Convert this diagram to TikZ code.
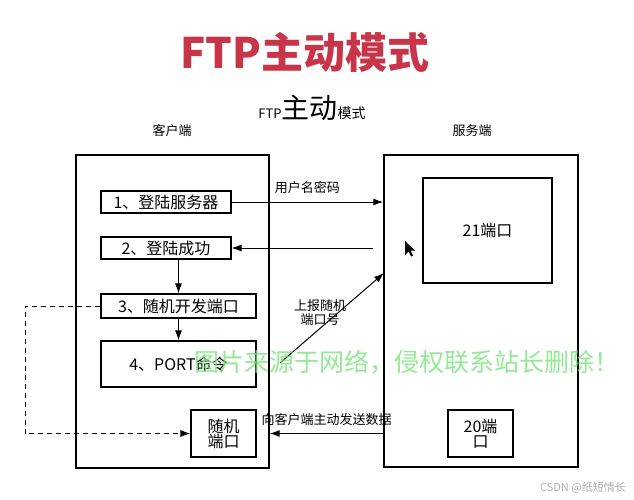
\documentclass[tikz,border=0pt]{standalone}
\usepackage{fontspec}
\usepackage{tikz}
\usetikzlibrary{arrows.meta}
\setmainfont{Noto Sans CJK SC}
\definecolor{titlered}{RGB}{200,52,72}
\definecolor{wmgreen}{RGB}{120,228,120}
\definecolor{csdngray}{RGB}{175,175,175}

\begin{document}
\begin{tikzpicture}[x=1pt, y=-1pt,
    box/.style={draw, line width=1.1pt, inner sep=0pt, align=center, font=\fontsize{16}{15}\selectfont},
    frame/.style={draw, line width=1.4pt, inner sep=0pt},
    lbl/.style={inner sep=0pt, align=center, font=\fontsize{13}{14}\selectfont},
    arr/.style={-{Latex[length=10pt, width=7pt]}, line width=1pt},
    dashline/.style={-{Latex[length=10pt, width=7pt]}, line width=1pt, dash pattern=on 5pt off 4pt}]
        \useasboundingbox (0,0) rectangle (634,500);

        % Headings
        \node[inner sep=0pt, text=titlered, font=\fontsize{42}{42}\selectfont\bfseries] (title) at (305,52) {FTP主动模式};
        \node[inner sep=0pt, anchor=base] (sub) at (312,118) {\fontsize{13}{13}\selectfont FTP\fontsize{28}{28}\selectfont 主动\fontsize{14}{14}\selectfont 模式};
        \node[lbl] (client label) at (172,131) {客户端};
        \node[lbl] (server label) at (472,131) {服务端};

        % Frames
        \node[frame, minimum width=193pt, minimum height=313pt] (client) at (172.5,311.5) {};
        \node[frame, minimum width=194pt, minimum height=312pt] (server) at (481,311) {};

        % Client steps
        \node[box, minimum width=130pt, minimum height=22pt] (login) at (166,202) {1、登陆服务器};
        \node[box, minimum width=130pt, minimum height=22pt] (ok) at (166,248) {2、登陆成功};
        \node[box, minimum width=155pt, minimum height=24pt] (open) at (178.5,306) {3、随机开发端口};
        \node[box, minimum width=155pt, minimum height=46pt] (port) at (178.5,364) {4、PORT命令};
        \node[box, minimum width=65pt, minimum height=47pt] (rand) at (223.5,433.5) {随机\\端口};

        % Server ports
        \node[box, minimum width=129pt, minimum height=105pt] (p21) at (487.5,230.5) {21端口};
        \node[box, minimum width=65pt, minimum height=47pt] (p20) at (480.5,433.5) {20端\\口};

        % Free ends
        \coordinate (reply) at (373,248);
        \coordinate (report) at (280,363);
        \coordinate (report end) at (384,273);
        \coordinate (loop) at (25,306);

        % Lines
        \draw[arr] (login.east) -- (server.west |- login.east) node[lbl, midway, above=8pt] {用户名密码};
        \draw[arr] (reply) -- (ok.east);
        \draw[arr] (ok.south -| open.north) -- (open.north);
        \draw[arr] (open.south) -- (port.north);
        \draw[arr] (report) -- (report end);
        \node[lbl] (report label) at (320,313) {上报随机\\端口号};
        \draw[arr] (server.west |- rand.east) -- (client.east |- rand.east) node[lbl, midway, above=7pt] {向客户端主动发送数据};
        \draw[dashline] (open.west) -- (loop) |- (rand.west);

        % Pointer
        \fill (405,241) -- (405,255) -- (408.5,251.5) -- (411,256.5) -- (413,255.5) -- (410.5,250.5) -- (415,250.5) -- cycle;

        % Watermark
        \node[inner sep=0pt, text=wmgreen, text opacity=0.8, font=\fontsize{25}{25}\selectfont] (mark) at (407,362) {图片来源于网络，侵权联系站长删除！};
        \node[inner sep=0pt, anchor=east, text=csdngray, font=\fontsize{11}{11}\selectfont] (csdn) at (626,488) {CSDN @纸短情长};
    \end{tikzpicture}
\end{document}
